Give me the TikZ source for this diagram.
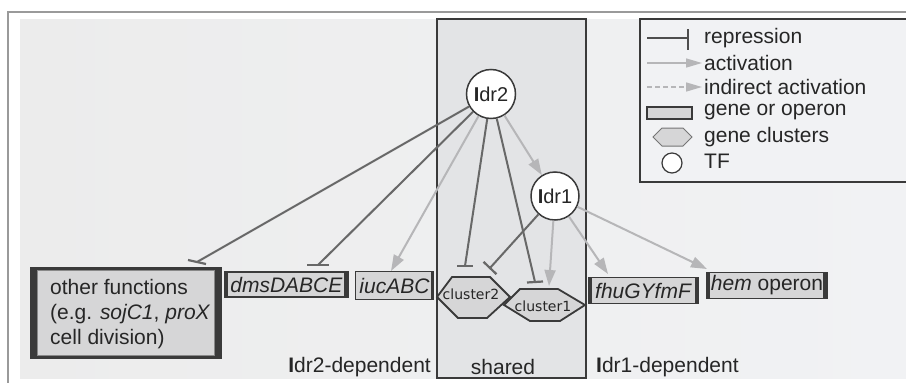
\documentclass[tikz,border=0pt]{standalone}
\usepackage{fontspec}
\setmainfont{Liberation Sans}
\newfontfamily\clfont{DejaVu Sans}
\usetikzlibrary{arrows.meta}
\definecolor{repc}{HTML}{686868}
\definecolor{actc}{HTML}{B6B6B8}
\definecolor{bord}{HTML}{3A3A3A}
\definecolor{genefill}{HTML}{D6D6D7}
\definecolor{bgL}{HTML}{ECECEC}
\definecolor{bgR}{HTML}{F1F2F4}
\definecolor{sharedc}{HTML}{E3E4E6}
\definecolor{framec}{HTML}{9A9A9A}
\begin{document}
\begin{tikzpicture}[x=1pt,y=-1pt,
  every node/.style={font=\fontsize{21}{25}\selectfont, text=black!85},
  tf/.style={circle, draw=bord, line width=1.5pt, fill=white, minimum size=49pt, inner sep=0pt, font=\fontsize{20}{24}\selectfont},
  gene/.style={draw=bord, line width=1.3pt, fill=genefill, inner sep=0pt},
  rep/.style={draw=repc, line width=2pt},
  repbar/.style={draw=repc, line width=2.2pt},
  act/.style={draw=actc, line width=2pt, -{Triangle[length=16pt,width=11pt]}, color=actc},
  hexa/.style={draw=bord, line width=1.8pt, fill=genefill, line join=miter},
  lbl/.style={inner sep=0pt},
]
\useasboundingbox (0,0) rectangle (906,383);
\fill[white] (0,0) rectangle (906,383);
% frame and background
\draw[framec, line width=2pt] (8,383) -- (8,12) -- (906,12);
\shade[left color=bgL, right color=bgR] (20,19) rectangle (906,378);
% shared box
\filldraw[fill=sharedc, draw=bord, line width=1.5pt] (437,19) rectangle (586,378);
% legend
\filldraw[fill=bgR, draw=bord, line width=1.5pt] (640,19) rectangle (912,182);
\coordinate (lr1) at (647,38); \coordinate (lr2) at (688,38);
\draw[draw=bord!90, line width=1.5pt] (lr1) -- (lr2);
\draw[draw=bord!90, line width=1.5pt] (688,29) -- (688,50);
\coordinate (la1) at (647,63); \coordinate (la2) at (702,63);
\draw[draw=actc, line width=1.5pt, -{Triangle[length=16pt,width=9pt]}] (la1) -- (la2);
\coordinate (li1) at (647,87); \coordinate (li2) at (702,87);
\draw[draw=actc, line width=1.5pt, dash pattern=on 5pt off 3pt, -{Triangle[length=16pt,width=9pt]}] (li1) -- (li2);
\filldraw[fill=genefill, draw=bord, line width=1.2pt] (647,107) rectangle (692,119);
\filldraw[fill=genefill, draw=bord!70, line width=1pt] (653,137) -- (662,128) -- (683,128) -- (692,137) -- (683,146) -- (662,146) -- cycle;
\filldraw[fill=white, draw=bord, line width=1.2pt] (672,163) circle (10);
\node[lbl, anchor=west] (t1) at (704,38) {repression};
\node[lbl, anchor=west] (t2) at (704,63) {activation};
\node[lbl, anchor=west] (t3) at (704,87) {indirect activation};
\node[lbl, anchor=west] (t4) at (704,112) {gene or operon};
\node[lbl, anchor=west] (t5) at (704,137) {gene clusters};
\node[lbl, anchor=west] (t6) at (704,161) {TF};
% transcription factors
\node[tf] (idr2) at (491,94) {\textbf{I}dr2};
\node[tf, minimum size=48pt] (idr1) at (555,196) {\textbf{I}dr1};
% gene boxes
\fill[bord] (30,267) rectangle (222,359);
\filldraw[fill=genefill, draw=bord!60, line width=0.8pt] (37,270) rectangle (214,355);
\node[lbl, anchor=north west, align=left] (other) at (50,279) {other functions\\(e.g. \textit{sojC1}, \textit{proX}\\cell division)};
\node[gene, minimum width=123pt, minimum height=25pt] (dms) at (286.5,284.5) {\textit{dmsDABCE}};
\fill[bord] (dms.north west) rectangle ([xshift=4pt]dms.south west);
\fill[bord] (dms.north east) rectangle ([xshift=-5pt]dms.south east);
\node[gene, minimum width=78pt, minimum height=28pt] (iuc) at (394.5,285.5) {\textit{iucABC}};
\fill[bord] (iuc.north east) rectangle ([xshift=-3pt]iuc.south east);
\node[gene, minimum width=110pt, minimum height=26pt] (fhu) at (643.5,290.5) {\textit{fhuGYfmF}};
\fill[bord] (fhu.north west) rectangle ([xshift=4pt]fhu.south west);
\fill[bord] (fhu.north east) rectangle ([xshift=-4pt]fhu.south east);
\node[gene, minimum width=121pt, minimum height=26pt] (hem) at (767,285.5) {\textit{hem} operon};
\fill[bord] (hem.north west) rectangle ([xshift=4pt]hem.south west);
\fill[bord] (hem.north east) rectangle ([xshift=-5pt]hem.south east);
% clusters
\filldraw[hexa] (452,277) -- (490,277) -- (510,297) -- (487,318) -- (458,318) -- (437,297) -- cycle;
\node[lbl, font=\clfont\fontsize{14}{16}\selectfont] (cl2) at (471,294) {cluster2};
\filldraw[hexa] (520,289) -- (558,289) -- (585,305) -- (560,321) -- (530,321) -- (504,305) -- cycle;
\node[lbl, font=\clfont\fontsize{14}{16}\selectfont] (cl1) at (543,306) {cluster1};
% connector end points
\coordinate (e1) at (197,262);
\coordinate (e2) at (318,265);
\coordinate (e3) at (391,271);
\coordinate (e4) at (465,266);
\coordinate (e5) at (535,282);
\coordinate (e7) at (490,268);
\coordinate (e8) at (549,286);
\coordinate (e9) at (608,274);
\coordinate (e10) at (707,269);
% Idr2 connectors
\draw[rep] (idr2) -- (e1);
\draw[repbar] ([shift={(-9,-2)}]e1) -- ([shift={(9,2)}]e1);
\draw[rep] (idr2) -- (e2);
\draw[repbar] ([xshift=-11pt]e2) -- ([xshift=11pt]e2);
\draw[act] (idr2) -- (e3);
\draw[rep] (idr2) -- (e4);
\draw[repbar] ([xshift=-8pt]e4) -- ([xshift=8pt]e4);
\draw[rep] (idr2) -- (e5);
\draw[repbar] ([shift={(-8,0.5)}]e5) -- ([shift={(8,-0.5)}]e5);
\draw[act] (idr2) -- (idr1);
% Idr1 connectors
\draw[rep] (idr1) -- (e7);
\draw[repbar] ([shift={(-6.5,-6.2)}]e7) -- ([shift={(6.5,6.2)}]e7);
\draw[act] (idr1) -- (e8);
\draw[act] (idr1) -- (e9);
\draw[act] (idr1) -- (e10);
% region labels
\node[lbl, anchor=east] (l2) at (431,367) {\textbf{I}dr2-dependent};
\node[lbl] (ls) at (503,367) {shared};
\node[lbl, anchor=west] (l1) at (596,367) {\textbf{I}dr1-dependent};
\end{tikzpicture}
\end{document}
